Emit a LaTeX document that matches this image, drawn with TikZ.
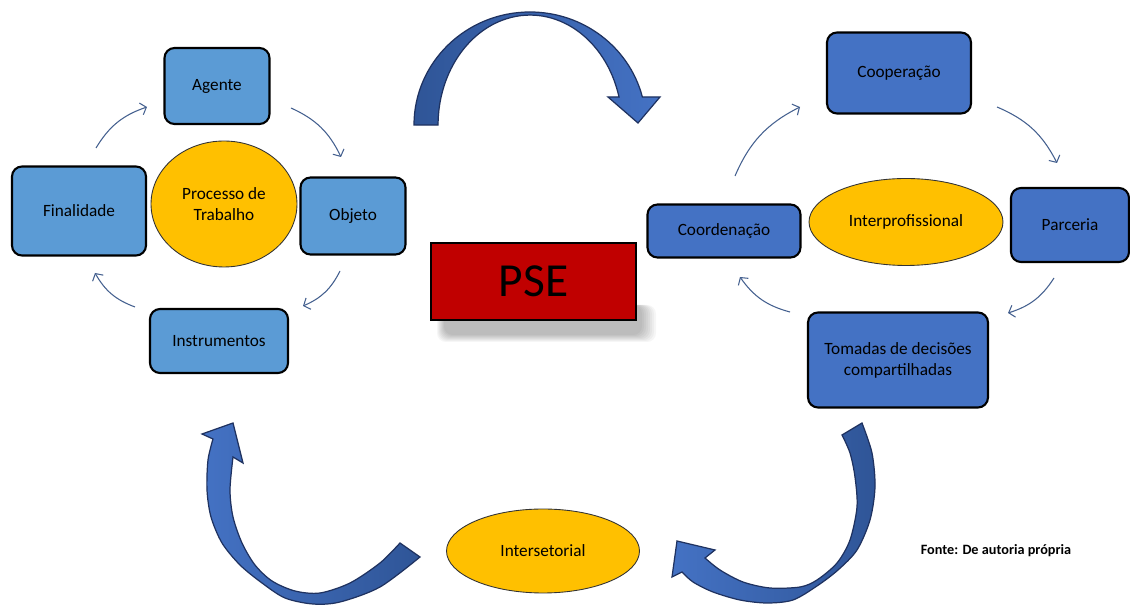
\documentclass[tikz,border=0pt]{standalone}
\usepackage{fontspec}
\setmainfont{Carlito}
\usetikzlibrary{positioning,shapes,arrows.meta,backgrounds}

\definecolor{lightblue}{HTML}{5B9BD5}
\definecolor{midblue}{HTML}{4472C4}
\definecolor{gold}{HTML}{FFC000}
\definecolor{psered}{HTML}{C00000}
\definecolor{backblue}{HTML}{2F5597}
\definecolor{edgeblue}{HTML}{1F3260}
\definecolor{loopblue}{HTML}{44608F}

\begin{document}
\begin{tikzpicture}[x=0.02cm,y=0.02cm,font=\fontsize{9.8}{12}\selectfont,
left node/.style={rectangle,rounded corners=0.2cm,draw=black,line width=1.2pt,fill=lightblue,align=center,inner sep=0pt},
right node/.style={left node,fill=midblue},
core node/.style={ellipse,draw=black!80,line width=0.5pt,fill=gold,align=center,inner sep=0pt},
loop arrow/.style={draw=loopblue,line width=0.6pt,-{Straight Barb[length=3pt,width=7pt]},bend left=20},
big arrow/.style={draw=edgeblue,line width=0.7pt}]
\useasboundingbox (0,0) rectangle (1130,605);
\begin{scope}[on background layer]
\fill[white] (0,0) rectangle (1130,605);
\end{scope}

% processo de trabalho
\node[left node,minimum width=2.1cm,minimum height=1.52cm] (ag) at (217,519) {Agente};
\node[left node,minimum width=2.68cm,minimum height=1.78cm] (fin) at (79,394) {Finalidade};
\node[left node,minimum width=2.1cm,minimum height=1.54cm] (obj) at (353,389) {Objeto};
\node[left node,minimum width=2.76cm,minimum height=1.28cm] (ins) at (219,264) {Instrumentos};
\node[core node,minimum width=2.92cm,minimum height=2.52cm] (proc) at (224,401) {Processo de\\Trabalho};

\coordinate (a1) at (96,457);
\coordinate (a2) at (147,498);
\coordinate (a3) at (291,497);
\coordinate (a4) at (341,448);
\coordinate (a5) at (340,334);
\coordinate (a6) at (303,299);
\coordinate (a7) at (135,298);
\coordinate (a8) at (95,332);
\draw[loop arrow] (a1) to (a2);
\draw[loop arrow] (a3) to (a4);
\draw[loop arrow] (a5) to (a6);
\draw[loop arrow] (a7) to (a8);

% interprofissional
\node[right node,minimum width=2.88cm,minimum height=1.62cm] (coop) at (899,532) {Cooperação};
\node[right node,minimum width=2.36cm,minimum height=1.48cm] (parc) at (1070,380) {Parceria};
\node[right node,minimum width=3.06cm,minimum height=1.06cm] (coord) at (724,374) {Coordenação};
\node[right node,minimum width=3.6cm,minimum height=1.9cm] (tom) at (898,245) {Tomadas de decisões\\compartilhadas};
\node[core node,minimum width=3.88cm,minimum height=1.74cm] (inter) at (906,383) {Interprofissional};

\coordinate (b1) at (735,429);
\coordinate (b2) at (800,498);
\coordinate (b3) at (997,498);
\coordinate (b4) at (1057,442);
\coordinate (b5) at (1054,327);
\coordinate (b6) at (1008,292);
\coordinate (b7) at (790,293);
\coordinate (b8) at (740,328);
\draw[loop arrow] (b1) to (b2);
\draw[loop arrow] (b3) to (b4);
\draw[loop arrow] (b5) to (b6);
\draw[loop arrow] (b7) to (b8);

% centro
\begin{scope}[on background layer]
\foreach \k in {0,...,7}
  \fill[black,opacity=0.035,rounded corners=5] (437+\k,263+\k) rectangle (656-2*\k,300);
\end{scope}
\node[rectangle,draw=black,line width=1pt,fill=psered,minimum width=4.1cm,minimum height=1.54cm,
  font=\fontsize{27}{30}\selectfont] (pse) at (533.5,323.5) {PSE};
\node[core node,minimum width=3.86cm,minimum height=1.68cm] (inters) at (543,54) {Intersetorial};
\node[font=\fontsize{8.1}{10}\selectfont\bfseries] (fonte) at (996,54) {Fonte: De autoria própria};

% setas grandes
\draw[big arrow,left color=backblue,right color=midblue] (414,480)
  arc[start angle=180,end angle=14.4,x radius=116,y radius=113]
  -- (660,508) -- (638,482) -- (608,508) -- (619,508)
  arc[start angle=14.8,end angle=180,x radius=92,y radius=110] -- cycle;
\draw[big arrow,left color=midblue,right color=backblue]
  plot[smooth] coordinates {(420,48) (380,18) (340,3) (313,1) (285,7) (262,22) (240,40) (222,62) (211,88) (207,115) (208,145) (213,166)}
  -- (202,171) -- (233,182) -- (243,142)
  -- plot[smooth] coordinates {(233,148) (230,115) (233,88) (242,62) (255,40) (272,24) (295,14) (320,12) (350,22) (380,42) (400,62)} -- cycle;
\draw[big arrow,left color=midblue,right color=backblue]
  plot[smooth] coordinates {(862,182) (872,152) (875,118) (870,85) (857,55) (838,35) (817,19) (793,5) (767,2) (740,5) (713,13) (693,23) (682,33)}
  -- (672,28) -- (677,64) -- (715,55)
  -- plot[smooth] coordinates {(705,47) (720,35) (743,23) (770,17) (800,18) (817,25) (837,42) (850,65) (857,98) (855,128) (850,152) (842,170)} -- cycle;
\end{tikzpicture}
\end{document}
